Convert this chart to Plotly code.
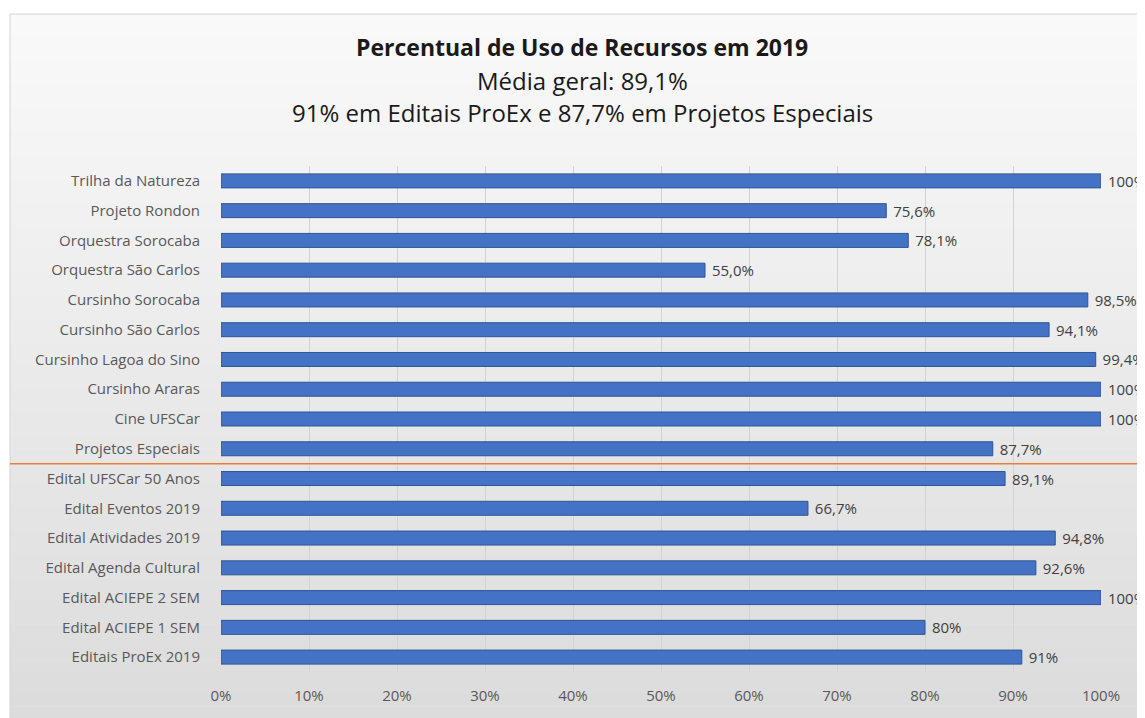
import plotly.graph_objects as go

categories = [
    "Trilha da Natureza", "Projeto Rondon", "Orquestra Sorocaba", "Orquestra São Carlos",
    "Cursinho Sorocaba", "Cursinho São Carlos", "Cursinho Lagoa do Sino", "Cursinho Araras",
    "Cine UFSCar", "Projetos Especiais", "Edital UFSCar 50 Anos", "Edital Eventos 2019",
    "Edital Atividades 2019", "Edital Agenda Cultural", "Edital ACIEPE 2 SEM",
    "Edital ACIEPE 1 SEM", "Editais ProEx 2019",
]
values = [100, 75.6, 78.1, 55.0, 98.5, 94.1, 99.4, 100, 100, 87.7, 89.1, 66.7, 94.8, 92.6, 100, 80, 91]
value_labels = ["100%", "75,6%", "78,1%", "55,0%", "98,5%", "94,1%", "99,4%", "100%", "100%",
                "87,7%", "89,1%", "66,7%", "94,8%", "92,6%", "100%", "80%", "91%"]
tick_vals = [0, 10, 20, 30, 40, 50, 60, 70, 80, 90, 100]
tick_text = ["0%", "10%", "20%", "30%", "40%", "50%", "60%", "70%", "80%", "90%", "100%"]
title_lines = ["<b>Percentual de Uso de Recursos em 2019</b>", "Média geral: 89,1%",
               "91% em Editais ProEx e 87,7% em Projetos Especiais"]

OFF = 8  # page body margin
W, H = 1145 - OFF, 718 - OFF
L, R, T, B = 221 - OFF, 44, 166 - OFF, 46
pw, ph = W - L - R, H - T - B

def px_x(x):
    return (x - OFF - L) / pw

def px_y(y):
    return (H - B - (y - OFF)) / ph

FONT = "Open Sans"

fig = go.Figure()
fig.add_trace(go.Bar(
    y=categories, x=values, orientation="h",
    marker=dict(color="#4472C4", line=dict(color="#2F5597", width=1)),
    width=0.47,
    text=value_labels, texttemplate="\u00a0%{text}", textposition="outside",
    cliponaxis=False, constraintext="none",
    textfont=dict(family=FONT, size=15, color="#404040"),
    hoverinfo="skip",
))

shapes = []
n = 60
y_top, y_bot = 14, 718
c0, c1 = (249, 249, 249), (220, 220, 220)
for i in range(n):
    t = i / (n - 1)
    c = tuple(round(c0[k] + (c1[k] - c0[k]) * t) for k in range(3))
    ya = y_top + (y_bot - y_top) * i / n
    yb = y_top + (y_bot - y_top) * (i + 1) / n
    shapes.append(dict(type="rect", xref="paper", yref="paper",
                       x0=px_x(10), x1=px_x(1150), y0=px_y(yb + 0.5), y1=px_y(ya),
                       fillcolor="rgb(%d,%d,%d)" % c, line=dict(width=0), layer="below"))
shapes.append(dict(type="rect", xref="paper", yref="paper",
                   x0=px_x(10), x1=px_x(1150), y0=px_y(720), y1=px_y(y_top),
                   fillcolor="rgba(0,0,0,0)", line=dict(color="#d4d4d4", width=1), layer="below"))
shapes.append(dict(type="line", xref="paper", yref="y",
                   x0=px_x(10), x1=px_x(1150), y0=9.5, y1=9.5,
                   line=dict(color="#ED7D31", width=1.5), layer="above"))

annotations = []
for line, py, sz in zip(title_lines, [47, 80, 113], [23, 24, 24]):
    annotations.append(dict(text=line, xref="paper", yref="paper", x=px_x(582), y=px_y(py),
                            xanchor="center", yanchor="middle", showarrow=False,
                            font=dict(family=FONT, size=sz, color="#1a1a1a")))

fig.update_layout(
    width=W, height=H,
    margin=dict(l=L, r=R, t=T, b=B, autoexpand=False),
    paper_bgcolor="white", plot_bgcolor="rgba(0,0,0,0)",
    showlegend=False, bargap=0.5,
    shapes=shapes, annotations=annotations,
    font=dict(family=FONT, color="#595959"),
)
fig.update_xaxes(range=[0, 100], tickvals=tick_vals, ticktext=tick_text,
                 showgrid=True, gridcolor="#d3d3d3", gridwidth=1,
                 zeroline=False, showline=False, ticks="",
                 tickfont=dict(family=FONT, size=15, color="#595959"), ticklabelstandoff=13)
fig.update_yaxes(autorange="reversed", showgrid=False, zeroline=False, showline=False,
                 ticks="", tickfont=dict(family=FONT, size=15, color="#595959"),
                 ticklabelstandoff=20)

fig.write_html("out.html")
